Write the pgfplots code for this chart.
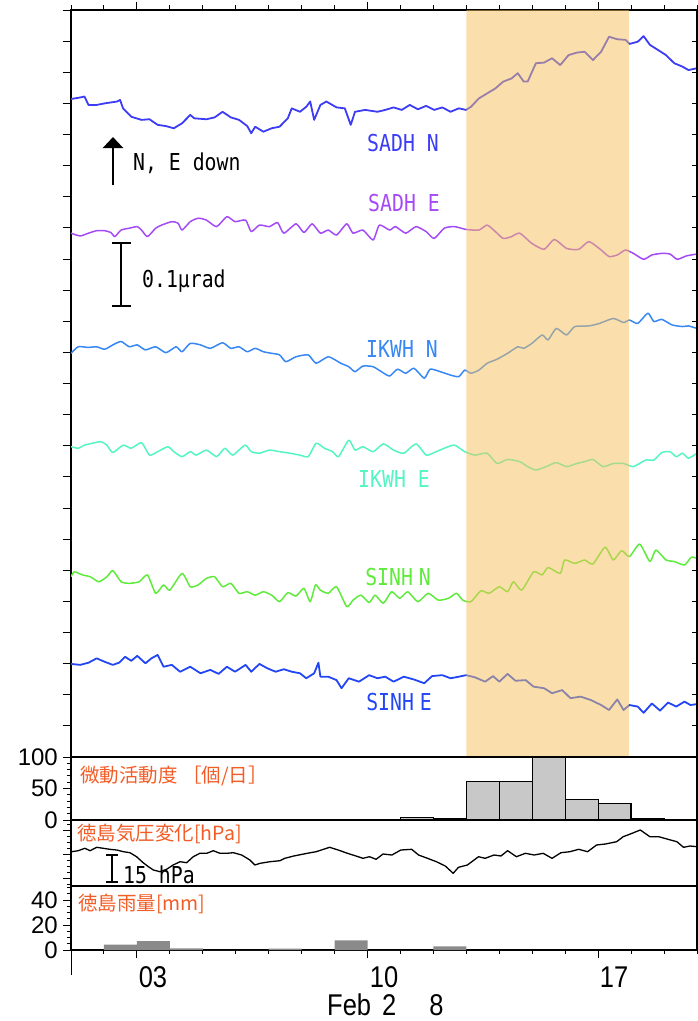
\documentclass[border=0pt]{standalone}
\usepackage{fontspec}
\setmainfont{Liberation Sans}
\newfontfamily\monof[FakeStretch=0.85]{DejaVu Sans Mono}
\newfontfamily\jpf{Noto Sans CJK JP}
\newfontfamily\narrowf[FakeStretch=0.85]{Liberation Sans}
\usepackage{pgfplots}
\pgfplotsset{compat=1.18}
\usetikzlibrary{arrows.meta}
\definecolor{sadhN}{RGB}{60,60,245}
\definecolor{sadhE}{RGB}{165,75,245}
\definecolor{ikwhN}{RGB}{55,135,245}
\definecolor{ikwhE}{RGB}{85,245,195}
\definecolor{sinhN}{RGB}{95,235,60}
\definecolor{sinhE}{RGB}{35,70,245}
\definecolor{jpor}{RGB}{242,92,38}
\definecolor{shade}{RGB}{245,192,92}
\definecolor{histg}{RGB}{200,200,200}
\definecolor{raing}{RGB}{138,138,138}
\newcommand\labfont{\monof\fontsize{23.3bp}{28bp}\selectfont}
\newcommand\jpfont{\jpf\fontsize{19.5bp}{22bp}\selectfont}
\newcommand\tickfont{\fontsize{24bp}{28bp}\selectfont}
\newcommand\xfont{\narrowf\fontsize{30bp}{34bp}\selectfont}
\pgfplotsset{
  panel/.style={scale only axis, width=626bp, xmin=1, xmax=20,
    axis line style={line width=1.2bp},
    every tick/.style={black, line width=1bp},
    /pgf/number format/assume math mode=true,
    yticklabel style={font=\tickfont, inner sep=0pt, xshift=-5bp},
    tick align=outside, major tick length=8bp, minor tick length=4bp},
  trace/.style={line width=1.5bp, line join=round, smooth, tension=0.35},
  noisy/.style={line width=1.8bp, line join=round},
}
\begin{document}
\begin{tikzpicture}
\path[use as bounding box] (0,0) rectangle (698bp,-1021bp);
% ---------------- main tilt panel ----------------
\begin{axis}[panel, at={(71bp,-10bp)}, anchor=north west, height=747bp,
  ymin=0, ymax=24,
  xtick={3,10,17}, minor xtick={1,...,20}, xticklabels={}, xtick pos=right,
  ytick={1,...,24}, yticklabels={}, ytick pos=left,
  major tick length=8.5bp, minor tick length=5bp]
\addplot[sadhN, noisy] coordinates {
(1.0,21.14)(1.28,21.19)(1.41,21.22)(1.53,20.95)(1.78,20.95)(2.02,21.00)(2.40,21.06)(2.49,21.11)(2.58,20.84)(2.83,20.57)(3.14,20.47)(3.38,20.49)(3.63,20.31)(3.88,20.27)(4.12,20.20)(4.37,20.36)(4.62,20.63)(4.74,20.52)(5.11,20.49)(5.36,20.55)(5.60,20.73)(5.85,20.55)(6.10,20.47)(6.35,20.27)(6.47,20.04)(6.59,20.25)(6.84,20.09)(7.09,20.20)(7.33,20.25)(7.58,20.52)(7.70,20.84)(7.95,20.73)(8.14,20.89)(8.26,21.06)(8.38,20.47)(8.57,20.95)(8.75,21.06)(9.06,20.87)(9.31,20.84)(9.49,20.31)(9.62,20.73)(9.93,20.79)(10.30,20.73)(10.54,20.79)(10.79,20.87)(11.04,20.79)(11.28,20.95)(11.53,20.81)(11.78,20.92)(12.02,20.79)(12.27,20.87)(12.52,20.73)(12.77,20.84)(12.99,20.79)(13.14,20.89)(13.38,21.16)(13.63,21.32)(13.88,21.48)(14.12,21.70)(14.37,21.80)(14.56,21.97)(14.74,21.70)(14.86,21.70)(15.11,22.29)(15.36,22.31)(15.60,22.45)(15.85,22.23)(16.10,22.55)(16.35,22.63)(16.59,22.66)(16.84,22.39)(17.09,22.66)(17.33,23.14)(17.58,23.06)(17.83,23.04)(17.95,22.91)(18.20,22.98)(18.38,23.16)(18.57,22.88)(18.81,22.72)(19.06,22.55)(19.31,22.29)(19.56,22.18)(19.74,22.07)(20.0,22.13)};
\addplot[sadhE, trace] coordinates {
(1.0,16.83)(1.28,16.74)(1.53,16.83)(1.78,16.91)(2.02,16.91)(2.21,16.85)(2.33,16.72)(2.52,16.93)(2.77,16.99)(3.01,17.04)(3.14,16.93)(3.32,16.72)(3.57,16.99)(3.75,17.09)(4.06,17.20)(4.25,17.15)(4.37,16.93)(4.62,17.20)(4.86,17.31)(5.11,17.25)(5.42,17.04)(5.73,17.36)(5.98,17.20)(6.30,17.25)(6.47,16.88)(6.72,17.09)(7.02,17.04)(7.27,17.17)(7.46,16.83)(7.83,17.13)(8.07,16.85)(8.32,17.13)(8.57,16.83)(8.81,16.93)(9.06,16.77)(9.37,17.13)(9.56,16.83)(9.86,16.93)(10.17,16.61)(10.36,17.09)(10.67,16.93)(10.85,17.04)(11.16,16.83)(11.47,17.04)(11.78,16.88)(12.02,16.66)(12.33,16.99)(12.64,17.04)(12.99,16.95)(13.38,16.93)(13.63,17.09)(13.88,16.88)(14.12,16.66)(14.37,16.72)(14.62,16.83)(14.99,16.50)(15.36,16.31)(15.67,16.63)(16.04,16.34)(16.41,16.31)(16.72,16.56)(17.09,16.29)(17.33,16.08)(17.58,16.13)(17.83,16.29)(18.07,16.18)(18.38,15.99)(18.63,16.13)(18.93,16.18)(19.18,16.16)(19.40,15.99)(19.68,16.10)(20.0,16.16)};
\addplot[ikwhN, trace] coordinates {
(1.0,12.97)(1.22,13.18)(1.53,13.16)(1.78,13.18)(2.02,13.10)(2.27,13.24)(2.52,13.35)(2.77,13.18)(3.01,13.24)(3.26,13.08)(3.57,13.18)(3.88,12.99)(4.19,13.18)(4.37,13.02)(4.62,13.29)(4.93,13.24)(5.23,13.13)(5.60,13.31)(5.85,13.13)(6.10,13.18)(6.35,13.02)(6.59,13.13)(6.84,13.02)(7.09,12.97)(7.33,12.92)(7.52,12.70)(7.83,12.86)(8.20,12.92)(8.44,12.65)(8.81,12.86)(9.19,12.65)(9.43,12.54)(9.62,12.38)(9.86,12.56)(10.17,12.54)(10.42,12.38)(10.67,12.24)(10.91,12.46)(11.16,12.33)(11.41,12.49)(11.72,12.17)(11.90,12.46)(12.21,12.38)(12.52,12.27)(12.77,12.22)(12.95,12.43)(13.14,12.33)(13.38,12.43)(13.63,12.65)(13.93,12.78)(14.25,12.97)(14.56,13.18)(14.74,13.13)(14.99,13.29)(15.30,13.56)(15.48,13.40)(15.73,13.77)(16.04,13.56)(16.29,13.83)(16.72,13.85)(17.04,13.93)(17.46,14.09)(17.77,13.96)(17.95,14.04)(18.20,13.93)(18.51,14.26)(18.69,13.99)(18.93,14.06)(19.25,13.88)(19.56,13.83)(19.74,13.85)(20.0,13.77)};
\addplot[ikwhE, trace] coordinates {
(1.0,9.97)(1.22,9.92)(1.41,10.02)(1.65,10.08)(1.90,10.13)(2.09,10.02)(2.27,9.78)(2.58,10.02)(2.83,9.92)(3.14,10.10)(3.38,9.70)(3.63,9.81)(3.94,9.97)(4.12,9.81)(4.37,9.65)(4.62,9.81)(4.80,9.70)(5.11,9.86)(5.42,9.65)(5.67,9.92)(5.91,9.70)(6.28,10.02)(6.47,9.81)(6.72,9.76)(7.02,9.86)(7.33,9.81)(7.64,9.76)(7.95,9.70)(8.20,9.65)(8.44,10.08)(8.69,9.92)(8.94,9.81)(9.12,9.65)(9.43,10.18)(9.62,9.86)(9.86,9.97)(10.17,9.81)(10.48,10.06)(10.79,9.86)(11.10,9.76)(11.47,10.06)(11.78,9.70)(12.02,9.78)(12.33,9.92)(12.64,10.02)(12.95,9.81)(13.26,9.70)(13.63,9.76)(13.93,9.43)(14.25,9.56)(14.62,9.49)(14.86,9.33)(15.11,9.22)(15.42,9.33)(15.73,9.46)(16.04,9.33)(16.35,9.43)(16.59,9.49)(16.84,9.56)(17.15,9.33)(17.46,9.43)(17.77,9.43)(18.07,9.33)(18.44,9.54)(18.69,9.54)(18.93,9.78)(19.18,9.81)(19.37,9.65)(19.56,9.76)(19.74,9.60)(20.0,9.76)};
\addplot[sinhN, trace] coordinates {
(1.0,5.79)(1.10,5.95)(1.35,5.85)(1.59,5.79)(1.84,5.63)(2.09,5.79)(2.27,5.99)(2.52,5.63)(2.77,5.58)(3.07,5.63)(3.32,5.85)(3.57,5.26)(3.81,5.53)(4.00,5.36)(4.37,5.90)(4.62,5.47)(4.86,5.53)(5.11,5.74)(5.36,5.79)(5.60,5.47)(5.85,5.58)(6.10,5.26)(6.35,5.31)(6.59,5.20)(6.84,5.31)(7.09,5.20)(7.33,4.99)(7.58,5.28)(7.83,5.17)(8.07,5.42)(8.26,4.99)(8.42,5.53)(8.57,5.36)(8.81,5.26)(9.06,5.47)(9.37,4.83)(9.56,5.04)(9.80,5.20)(10.05,4.96)(10.23,5.20)(10.48,4.94)(10.73,5.31)(10.98,5.10)(11.22,5.31)(11.53,4.99)(11.84,5.26)(12.15,5.04)(12.46,5.10)(12.70,5.26)(12.89,5.04)(13.14,4.99)(13.44,5.34)(13.69,5.26)(14.00,5.47)(14.25,5.31)(14.43,5.63)(14.68,5.36)(15.04,5.95)(15.30,5.85)(15.48,6.09)(15.85,5.90)(15.98,6.33)(16.29,6.22)(16.59,6.33)(16.84,6.20)(17.21,6.74)(17.46,6.33)(17.71,6.63)(17.95,6.44)(18.26,6.84)(18.57,6.28)(18.75,6.65)(19.06,6.33)(19.31,6.28)(19.62,6.17)(19.83,6.42)(20.0,6.38)};
\addplot[sinhE, noisy] coordinates {
(1.0,2.99)(1.28,2.96)(1.53,3.03)(1.78,3.17)(2.02,3.06)(2.27,2.96)(2.46,3.03)(2.64,3.22)(2.83,3.09)(3.01,3.25)(3.26,3.01)(3.44,3.17)(3.63,3.28)(3.81,2.90)(4.06,2.96)(4.31,2.74)(4.62,2.90)(4.93,2.69)(5.23,2.80)(5.48,2.67)(5.73,2.90)(5.98,2.74)(6.30,2.96)(6.47,2.74)(6.72,2.99)(6.96,2.85)(7.21,2.74)(7.46,2.82)(7.70,2.74)(7.95,2.69)(8.14,2.53)(8.38,2.69)(8.51,3.03)(8.57,2.58)(8.81,2.58)(9.06,2.47)(9.21,2.21)(9.43,2.53)(9.74,2.42)(10.05,2.63)(10.30,2.53)(10.54,2.58)(10.79,2.42)(11.10,2.58)(11.41,2.49)(11.72,2.37)(11.96,2.60)(12.27,2.63)(12.52,2.53)(12.77,2.58)(12.99,2.63)(13.26,2.56)(13.57,2.42)(13.81,2.60)(14.00,2.42)(14.25,2.67)(14.49,2.45)(14.80,2.47)(15.04,2.26)(15.36,2.21)(15.60,2.05)(15.91,2.15)(16.16,1.89)(16.47,1.94)(16.78,1.83)(17.09,1.67)(17.33,1.51)(17.58,1.85)(17.77,1.51)(17.95,1.67)(18.20,1.62)(18.38,1.42)(18.63,1.72)(18.88,1.49)(19.12,1.75)(19.37,1.62)(19.62,1.78)(19.80,1.67)(20.0,1.70)};
% shaded tremor period
\addplot[fill=shade, fill opacity=0.5, draw=none] coordinates {(13,0)(13,24)(17.93,24)(17.93,0)} \closedcycle;
\end{axis}
% right-hand inside ticks of the main panel
\begin{axis}[panel, at={(71bp,-10bp)}, anchor=north west, height=747bp,
  ymin=0, ymax=24, axis x line=none, axis y line*=right,
  ytick={1,...,24}, yticklabels={}, tick align=inside, major tick length=5bp]
\addplot[draw=none] coordinates {(1,0)};
\end{axis}
% ---------------- tremor activity histogram ----------------
\begin{axis}[panel, at={(71bp,-757bp)}, anchor=north west, height=63bp,
  ymin=0, ymax=100, xtick=\empty,
  ytick={0,50,100}, minor ytick={10,20,30,40,60,70,80,90}, ytick pos=left]
\addplot[ybar interval, fill=histg, draw=black, line width=1.3bp] coordinates {
(11,4.3)(12,2.7)(13,61)(14,61)(15,100)(16,32.5)(17,26.7)(18,1.6)(19,0.5)(20,0)};
\end{axis}
% ---------------- pressure ----------------
\begin{axis}[panel, at={(71bp,-820bp)}, anchor=north west, height=66bp,
  ymin=0, ymax=66, xtick=\empty,
  ytick={8,32,56}, minor ytick={2,14,20,26,38,44,50,62}, yticklabels={}, ytick pos=left]
\addplot[black, line width=1.3bp, line join=round] coordinates {
(1.02,34.3)(1.22,35.3)(1.42,37.7)(1.58,35.3)(1.78,38.7)(1.98,37.7)(2.18,36.7)(2.39,36)(2.59,34.3)(2.79,33.3)(2.99,29.3)(3.19,23.3)(3.35,19.3)(3.50,16)(3.70,14.3)(3.90,16.7)(4.10,21)(4.31,24.3)(4.51,23.3)(4.71,29.3)(4.91,32.7)(5.12,32.7)(5.32,35.3)(5.52,32.7)(5.72,32.7)(5.93,33.3)(6.18,31)(6.43,26)(6.58,21)(6.74,22.7)(7.04,24.3)(7.34,25.3)(7.49,27.7)(7.76,30)(8.17,32.7)(8.44,34.3)(8.85,38.7)(9.11,36)(9.39,32.7)(9.65,30)(9.86,27.7)(10.06,29.3)(10.26,26.7)(10.47,32)(10.74,31)(11.01,36)(11.34,36.7)(11.55,31)(11.82,27.7)(12.09,24.3)(12.36,20)(12.60,12.7)(12.76,18.7)(13.03,21)(13.37,29.3)(13.57,27.7)(13.84,31)(14.05,30)(14.25,35.3)(14.52,29.3)(14.79,32.7)(15.06,31)(15.33,32.7)(15.60,27.7)(15.87,33.3)(16.14,34.3)(16.41,36.7)(16.68,34.3)(16.95,41)(17.22,42)(17.56,44.3)(17.76,49.3)(18.03,52.7)(18.28,56)(18.57,49.3)(18.84,49.3)(19.12,46.7)(19.39,44.3)(19.59,38.7)(19.79,40)(20.0,39.3)};
\end{axis}
% ---------------- rainfall ----------------
\begin{axis}[panel, at={(71bp,-886bp)}, anchor=north west, height=64bp,
  ymin=0, ymax=51.2,
  xtick={3,10,17}, minor xtick={1,...,20}, xticklabels={}, xtick pos=left,
  extra x ticks={1}, extra x tick labels={}, extra x tick style={major tick length=25bp},
  ytick={0,20,40}, minor ytick={5,10,15,25,30,35,45,50}, ytick pos=left]
\addplot[ybar interval=0.94, fill=raing, draw=none] coordinates {
(2,4.3)(3,7.2)(4,1.3)(5,0)(6,0)(7,1.1)(8,0)(9,7.7)(10,0)(11,0)(12,2.9)(13,0)};
\end{axis}
% ---------------- annotations ----------------
\begin{scope}[every node/.style={inner sep=0pt}]
\node[text=sadhN] at (403bp,-143.5bp) {\labfont SADH N};
\node[text=sadhE] at (404bp,-203bp) {\labfont SADH E};
\node[text=ikwhN] at (402bp,-349bp) {\labfont IKWH N};
\node[text=ikwhE] at (394bp,-479bp) {\labfont IKWH E};
\node[text=sinhN] at (398bp,-577bp) {\labfont SINH\hspace{0.25em}N};
\node[text=sinhE] at (399bp,-702bp) {\labfont SINH\hspace{0.25em}E};
\node[anchor=base west] at (133bp,-170bp) {\labfont N, E down};
\node[anchor=base west] at (142bp,-287bp) {\labfont 0.1µrad};
\node[anchor=base west] at (123bp,-883bp) {\labfont 15 hPa};
\node[anchor=west, text=jpor] at (80bp,-776bp) {\jpfont 微動活動度 ［個/日］};
\node[anchor=west, text=jpor] at (77bp,-834bp) {\jpfont 徳島気圧変化[hPa]};
\node[anchor=west, text=jpor] at (78bp,-904bp) {\jpfont 徳島雨量[mm]};
\node[anchor=base] at (153bp,-987bp) {\xfont 03};
\node[anchor=base] at (384bp,-987bp) {\xfont 10};
\node[anchor=base] at (614bp,-987bp) {\xfont 17};
\node[anchor=base west] at (327bp,-1015bp) {\xfont Feb\hspace{11bp}2\hspace{33bp}8};
\end{scope}
\draw[line width=2.2bp, -{Triangle[width=20bp,length=11bp]}] (113bp,-185bp) -- (113bp,-137bp);
\draw[line width=2.2bp] (121bp,-243bp) -- (121bp,-306bp) (112bp,-243bp) -- (131bp,-243bp) (112bp,-306bp) -- (131bp,-306bp);
\draw[line width=2.2bp] (112bp,-855bp) -- (112bp,-882bp) (106bp,-855bp) -- (118bp,-855bp) (106bp,-882bp) -- (118bp,-882bp);
\end{tikzpicture}
\end{document}
